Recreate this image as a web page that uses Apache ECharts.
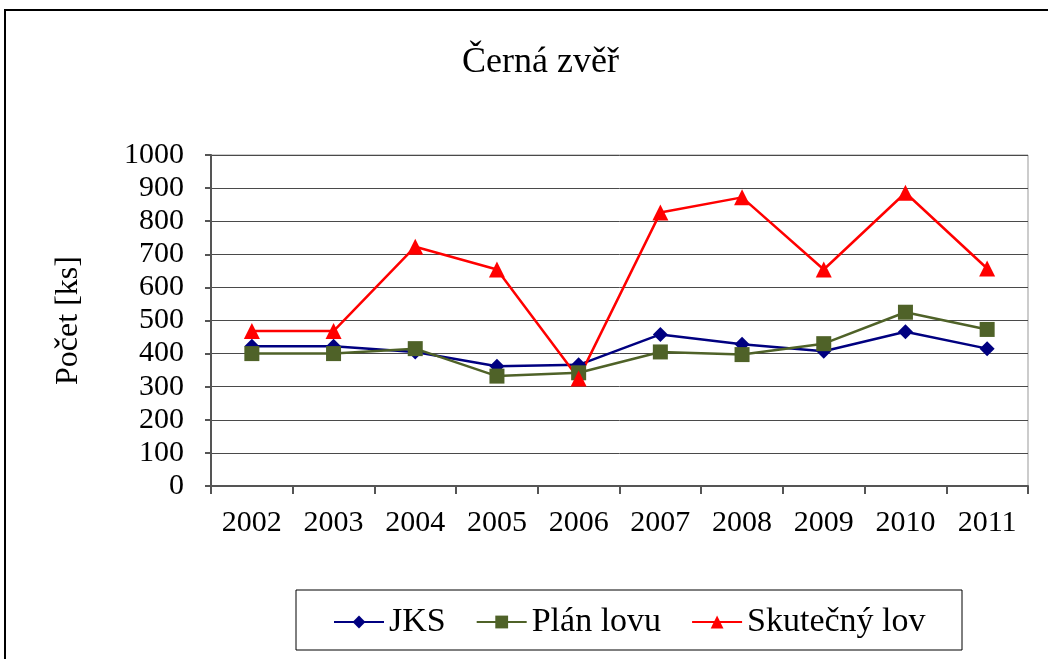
<!DOCTYPE html>
<html>
<head>
<meta charset="utf-8">
<script src="https://cdn.jsdelivr.net/npm/echarts@6/dist/echarts.min.js"></script>
<style>
  html, body { margin: 0; padding: 0; background: #fff; }
  #chart { width: 1048px; height: 659px; }
</style>
</head>
<body>
<div id="chart"></div>
<script>
var years = ['2002', '2003', '2004', '2005', '2006', '2007', '2008', '2009', '2010', '2011'];
var jks = [422, 422, 405, 362, 366, 458, 428, 407, 466, 415];
var planLovu = [400, 400, 415, 332, 342, 405, 397, 430, 525, 473];
var skutecnyLov = [468, 468, 723, 654, 325, 826, 872, 654, 886, 657];

var fontFamily = '"Liberation Serif", "DejaVu Serif", serif';

var myChart = echarts.init(document.getElementById('chart'));

myChart.setOption({
    animation: false,
    backgroundColor: '#fff',
    textStyle: { fontFamily: fontFamily },
    title: {
        text: 'Černá zvěř',
        left: 457,
        top: 40,
        textStyle: { fontFamily: fontFamily, fontSize: 36, fontWeight: 'normal', color: '#000' }
    },
    graphic: [
        {
            type: 'rect',
            shape: { x: 5, y: 10, width: 1100, height: 700 },
            style: { fill: 'none', stroke: '#000', lineWidth: 2 }
        },
        {
            type: 'rect',
            shape: { x: 296, y: 590, width: 666, height: 60 },
            style: { fill: 'none', stroke: '#000', lineWidth: 1 }
        }
    ],
    legend: {
        left: 328,
        top: 600,
        itemWidth: 50,
        itemHeight: 16,
        itemGap: 30,
        textStyle: { fontFamily: fontFamily, fontSize: 34, color: '#000' },
        data: ['JKS', 'Plán lovu', 'Skutečný lov']
    },
    grid: {
        left: 211,
        top: 155,
        right: 20,
        bottom: 173,
        show: true,
        borderColor: '#999',
        borderWidth: 1
    },
    xAxis: {
        type: 'category',
        data: years,
        boundaryGap: true,
        axisLine: { lineStyle: { color: '#555', width: 2 } },
        axisTick: { show: true, length: 8, interval: 0, lineStyle: { color: '#555', width: 2 } },
        axisLabel: { fontFamily: fontFamily, fontSize: 30, color: '#000', margin: 22, interval: 0 }
    },
    yAxis: {
        type: 'value',
        min: 0,
        max: 1000,
        interval: 100,
        name: 'Počet [ks]',
        nameLocation: 'middle',
        nameGap: 126,
        nameRotate: 90,
        nameTextStyle: { fontFamily: fontFamily, fontSize: 32, color: '#000' },
        axisLine: { show: true, lineStyle: { color: '#555', width: 2 } },
        axisTick: { show: true, length: 6, lineStyle: { color: '#555', width: 2 } },
        axisLabel: {
            fontFamily: fontFamily, fontSize: 30, color: '#000', margin: 27,
            formatter: function (v) { return String(v); }
        },
        splitLine: { show: true, lineStyle: { color: '#4a4a4a', width: 1 } }
    },
    series: [
        {
            name: 'JKS',
            type: 'line',
            data: jks,
            symbol: 'diamond',
            symbolSize: 15,
            itemStyle: { color: '#000080' },
            lineStyle: { color: '#000080', width: 2.5 }
        },
        {
            name: 'Plán lovu',
            type: 'line',
            data: planLovu,
            symbol: 'rect',
            symbolSize: 15,
            itemStyle: { color: '#4F6228' },
            lineStyle: { color: '#4F6228', width: 2.5 }
        },
        {
            name: 'Skutečný lov',
            type: 'line',
            data: skutecnyLov,
            symbol: 'triangle',
            symbolSize: 16,
            itemStyle: { color: '#FF0000' },
            lineStyle: { color: '#FF0000', width: 2.5 }
        }
    ]
});
</script>
</body>
</html>
